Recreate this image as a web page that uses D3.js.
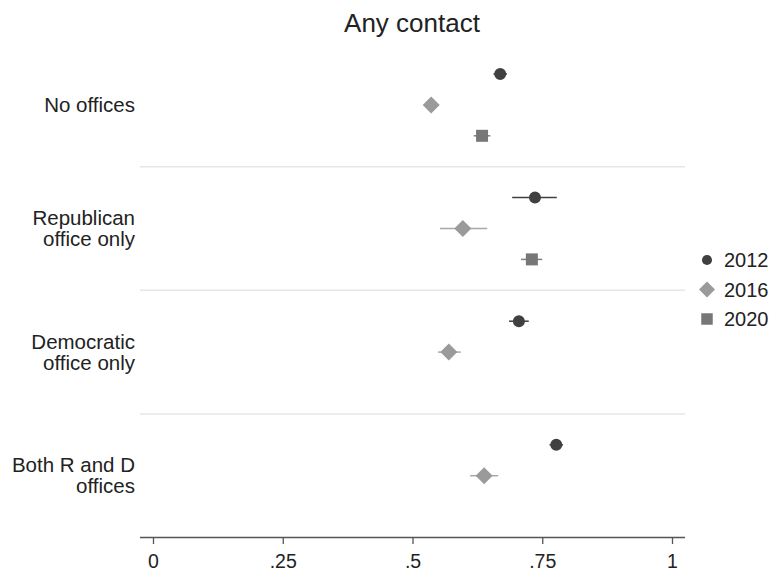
<!DOCTYPE html>
<html>
<head>
<meta charset="utf-8">
<script src="https://cdn.jsdelivr.net/npm/d3@7"></script>
<style>
  body { margin: 0; background: #fff; }
  text { font-family: "Liberation Sans", Arial, Helvetica, sans-serif; fill: #222; }
</style>
</head>
<body>
<svg id="chart" width="773" height="571"></svg>
<script>
// groups (top to bottom) and series
var groups = [["No offices"], ["Republican", "office only"], ["Democratic", "office only"], ["Both R and D", "offices"]]
var years = ["2012", "2016", "2020"]

// estimate, low, high per group; null = not shown
var est2012 = [0.669, 0.736, 0.705, 0.777]
var lo2012  = [0.656, 0.692, 0.686, 0.764]
var hi2012  = [0.682, 0.778, 0.724, 0.790]

var est2016 = [0.536, 0.597, 0.570, 0.638]
var lo2016  = [0.528, 0.553, 0.549, 0.611]
var hi2016  = [0.544, 0.644, 0.593, 0.665]

var est2020 = [0.634, 0.730, null, null]
var lo2020  = [0.618, 0.709, null, null]
var hi2020  = [0.650, 0.750, null, null]

var xTicks = [0, 0.25, 0.5, 0.75, 1]
var xTickLabels = ["0", ".25", ".5", ".75", "1"]

var svg = d3.select("#chart")

var x = d3.scaleLinear().domain([0, 1]).range([153, 672])
// each group has 4 slots: 3 rows + a gap
var y = d3.scaleLinear().domain([0, 15]).range([74, 537.5])

var colors = {"2012": "#404040", "2016": "#9a9a9a", "2020": "#777777"}
var ciColors = {"2012": "#404040", "2016": "#a8a8a8", "2020": "#808080"}

// separators between groups
svg.selectAll("line.sep")
   .data([3, 7, 11])
   .enter()
   .append("line")
   .attr("x1", 140).attr("x2", 685)
   .attr("y1", function (d) { return y(d) })
   .attr("y2", function (d) { return y(d) })
   .attr("stroke", "#e6e6e6")
   .attr("stroke-width", 1.5)

// title
svg.append("text")
   .attr("x", 412).attr("y", 32)
   .attr("text-anchor", "middle")
   .style("font-size", "26px")
   .text("Any contact")

// group labels
groups.forEach(function (lines, g) {
  var cy = y(4 * g + 1)
  var t = svg.append("text")
     .attr("text-anchor", "end")
     .style("font-size", "20.5px")
  lines.forEach(function (s, i) {
    t.append("tspan")
     .attr("x", 135)
     .attr("y", cy + 7 + (i - (lines.length - 1) / 2) * 21)
     .text(s)
  })
})

// x axis
var axis = d3.axisBottom(x)
   .tickValues(xTicks)
   .tickFormat(function (d, i) { return xTickLabels[i] })
   .tickSize(7)
   .tickSizeOuter(0)
var ax = svg.append("g")
   .attr("transform", "translate(0,537)")
   .call(axis)
ax.attr("font-size", null).attr("font-family", null)
ax.select(".domain").attr("d", "M140,0.5H685").attr("stroke", "#555").attr("stroke-width", 1.5)
ax.selectAll(".tick line").attr("stroke", "#555").attr("stroke-width", 1.3)
ax.selectAll(".tick text")
   .attr("y", 31)
   .attr("dy", null)
   .style("font-size", "19.5px")
   .attr("fill", "#222")

var diamond = {
  draw: function (ctx, size) {
    var r = Math.sqrt(size / 2)
    ctx.moveTo(0, -r); ctx.lineTo(r, 0); ctx.lineTo(0, r); ctx.lineTo(-r, 0); ctx.closePath()
  }
}

var series = [
  {year: "2012", est: est2012, lo: lo2012, hi: hi2012, shape: d3.symbolCircle, size: 113, lsize: 80},
  {year: "2016", est: est2016, lo: lo2016, hi: hi2016, shape: diamond, size: 145, lsize: 128},
  {year: "2020", est: est2020, lo: lo2020, hi: hi2020, shape: d3.symbolSquare, size: 144, lsize: 132}
]

series.forEach(function (s, r) {
  var pts = s.est.map(function (v, g) {
    return {v: v, lo: s.lo[g], hi: s.hi[g], row: 4 * g + r}
  }).filter(function (d) { return d.v !== null })

  svg.selectAll("line.ci" + s.year)
     .data(pts)
     .enter()
     .append("line")
     .attr("x1", function (d) { return x(d.lo) })
     .attr("x2", function (d) { return x(d.hi) })
     .attr("y1", function (d) { return y(d.row) })
     .attr("y2", function (d) { return y(d.row) })
     .attr("stroke", ciColors[s.year])
     .attr("stroke-width", 1.5)

  svg.selectAll("path.pt" + s.year)
     .data(pts)
     .enter()
     .append("path")
     .attr("d", d3.symbol().type(s.shape).size(s.size))
     .attr("transform", function (d) { return "translate(" + x(d.v) + "," + y(d.row) + ")" })
     .attr("fill", colors[s.year])
})

// legend
var leg = svg.selectAll("g.leg")
   .data(series)
   .enter()
   .append("g")
   .attr("transform", function (d, i) { return "translate(707," + (260 + i * 29.5) + ")" })
leg.append("path")
   .attr("d", function (d) { return d3.symbol().type(d.shape).size(d.lsize)() })
   .attr("fill", function (d) { return colors[d.year] })
leg.append("text")
   .attr("x", 17).attr("y", 7)
   .style("font-size", "20px")
   .text(function (d) { return d.year })
</script>
</body>
</html>
